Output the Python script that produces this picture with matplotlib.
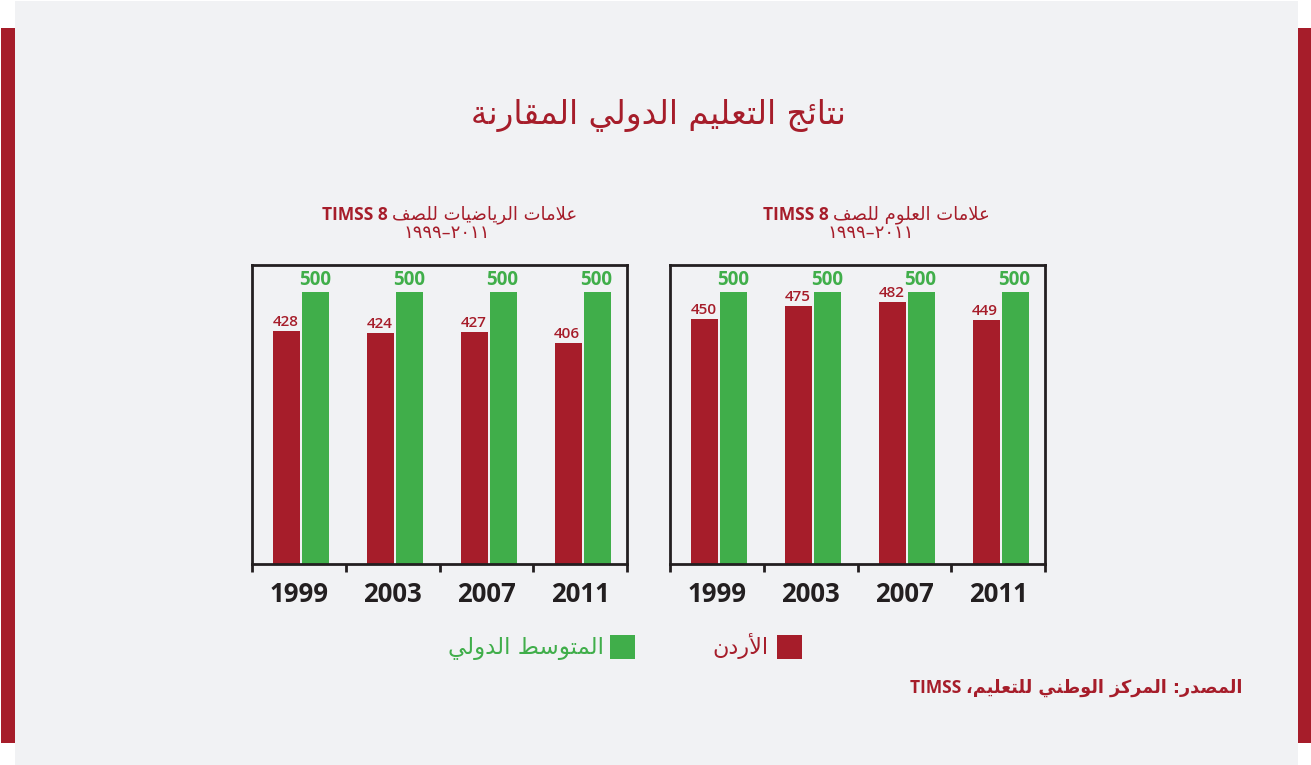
import matplotlib
matplotlib.use("Agg")
import matplotlib.pyplot as plt
from matplotlib.patches import Rectangle

# ---------------- data ----------------
years = ["1999", "2003", "2007", "2011"]
math_jordan = [428, 424, 427, 406]
math_intl = [500, 500, 500, 500]
sci_jordan = [450, 475, 482, 449]
sci_intl = [500, 500, 500, 500]

title_txt = "نتائج التعليم الدولي المقارنة"
math_title = "علامات الرياضيات للصف"
sci_title = "علامات العلوم للصف"
period_txt = "١٩٩٩–٢٠١١"
legend_jordan = "الأردن"
legend_intl = "المتوسط الدولي"
source_txt = "المصدر: المركز الوطني للتعليم،"

RED = "#a61d2a"
GREEN = "#40ae4a"
DARK = "#231f20"
BG = "#f1f2f4"

# ------------- minimal Arabic shaping (presentation forms) -------------
DUAL = {'ئ': 0xFE89, 'ب': 0xFE8F, 'ت': 0xFE95, 'ث': 0xFE99, 'ج': 0xFE9D, 'ح': 0xFEA1,
        'خ': 0xFEA5, 'س': 0xFEB1, 'ش': 0xFEB5, 'ص': 0xFEB9, 'ض': 0xFEBD, 'ط': 0xFEC1,
        'ظ': 0xFEC5, 'ع': 0xFEC9, 'غ': 0xFECD, 'ف': 0xFED1, 'ق': 0xFED5, 'ك': 0xFED9,
        'ل': 0xFEDD, 'م': 0xFEE1, 'ن': 0xFEE5, 'ه': 0xFEE9, 'ي': 0xFEF1}
RIGHT = {'آ': 0xFE81, 'أ': 0xFE83, 'ؤ': 0xFE85, 'إ': 0xFE87, 'ا': 0xFE8D, 'ة': 0xFE93,
         'د': 0xFEA9, 'ذ': 0xFEAB, 'ر': 0xFEAD, 'ز': 0xFEAF, 'و': 0xFEED, 'ى': 0xFEEF}
NONE = {'ء': 0xFE80}
LAMALEF = {'آ': 0xFEF5, 'أ': 0xFEF7, 'إ': 0xFEF9, 'ا': 0xFEFB}


def shape(s):
    toks = []
    i = 0
    while i < len(s):
        c = s[i]
        if c == 'ل' and i + 1 < len(s) and s[i + 1] in LAMALEF:
            toks.append(('LA', s[i + 1]))
            i += 2
        else:
            toks.append(('C', c))
            i += 1

    def jn(t):
        return t[0] == 'C' and t[1] in DUAL

    def jp(t):
        return t[0] == 'LA' or t[1] in DUAL or t[1] in RIGHT

    out = []
    for k, t in enumerate(toks):
        prev = toks[k - 1] if k > 0 else None
        nxt = toks[k + 1] if k + 1 < len(toks) else None
        cp = prev is not None and jn(prev) and jp(t)
        cn = nxt is not None and jn(t) and jp(nxt)
        if t[0] == 'LA':
            out.append(chr(LAMALEF[t[1]] + (1 if cp else 0)))
            continue
        c = t[1]
        if c in DUAL:
            out.append(chr(DUAL[c] + (3 if (cp and cn) else 1 if cp else 2 if cn else 0)))
        elif c in RIGHT:
            out.append(chr(RIGHT[c] + (1 if cp else 0)))
        elif c in NONE:
            out.append(chr(NONE[c]))
        else:
            out.append(c)
    return ''.join(out)


def ar(s):
    return shape(s)[::-1]


# ---------------- figure ----------------
W, H = 1311, 765
fig = plt.figure(figsize=(W / 100, H / 100), dpi=100)
fig.patch.set_facecolor("white")


def rect_px(x0, y0, x1, y1, color):
    fig.add_artist(Rectangle((x0 / W, 1 - y1 / H), (x1 - x0) / W, (y1 - y0) / H,
                             transform=fig.transFigure, facecolor=color,
                             edgecolor="none", zorder=-10))


rect_px(15, 1, 1298, 765, BG)
rect_px(1, 28, 15, 743, RED)
rect_px(1298, 28, 1311, 743, RED)

AR_FONT = ["DejaVu Sans"]
NUM_FONT = ["Open Sans", "DejaVu Sans"]

# title
fig.text(658 / W, 1 - 115 / H, ar(title_txt), ha="center", va="center",
         fontsize=23.5, color=RED, family=AR_FONT)


def panel(left_px, jordan, intl, sub_ar, sub_right_px, sub_center_px):
    ax = fig.add_axes([left_px / W, 1 - 564 / H, 375 / W, 299 / H])
    ax.set_facecolor("none")
    xs = range(len(years))
    bw = 0.29
    for i in xs:
        ax.bar(i + 0.372, jordan[i], width=bw, color=RED, zorder=2)
        ax.bar(i + 0.681, intl[i], width=bw, color=GREEN, zorder=2)
        ax.text(i + 0.362, jordan[i] + 4, str(jordan[i]), ha="center", va="bottom",
                fontsize=11, color=RED, family=NUM_FONT, fontweight="semibold")
        ax.text(i + 0.671, intl[i] + 4, str(intl[i]), ha="center", va="bottom",
                fontsize=13.5, color=GREEN, family=NUM_FONT, fontweight="bold")
    ax.set_xlim(0, 4)
    ax.set_ylim(0, 550)
    ax.set_yticks([])
    ax.set_xticks([0, 1, 2, 3, 4])
    ax.set_xticklabels([])
    ax.set_xticks([0.5, 1.5, 2.5, 3.5], minor=True)
    ax.set_xticklabels(years, minor=True, fontsize=18.5, fontweight="bold",
                       color=DARK, family=NUM_FONT)
    ax.tick_params(axis="x", which="major", length=5.5, width=2, color=DARK)
    ax.tick_params(axis="x", which="minor", length=0, pad=12)
    for sp in ax.spines.values():
        sp.set_color(DARK)
        sp.set_linewidth(2)
    # subtitle
    t_ar = fig.text(sub_right_px / W, 1 - 219 / H, ar(sub_ar), ha="right", va="baseline",
                    fontsize=13, color=RED, family=AR_FONT)
    ax.annotate("TIMSS 8 ", xy=(0, 0), xycoords=t_ar, ha="right", va="bottom",
                fontsize=12.5, color=RED, family=NUM_FONT, fontweight="bold",
                annotation_clip=False)
    fig.text(sub_center_px / W, 1 - 233 / H, period_txt, ha="center", va="center",
             fontsize=13, color=RED, family=AR_FONT)
    return ax


panel(252, math_jordan, math_intl, math_title, 577, 447)
panel(670, sci_jordan, sci_intl, sci_title, 990, 871)

# legend
rect_px(777, 635, 802, 659, RED)
fig.text(769 / W, 1 - 654 / H, ar(legend_jordan), ha="right", va="baseline",
         fontsize=16, color=RED, family=AR_FONT)
rect_px(610, 635, 635, 659, GREEN)
fig.text(604 / W, 1 - 654 / H, ar(legend_intl), ha="right", va="baseline",
         fontsize=16.5, color=GREEN, family=AR_FONT)

# source
t_src = fig.text(1242 / W, 1 - 693 / H, ar(source_txt), ha="right", va="baseline",
                 fontsize=12.7, color=RED, family=AR_FONT, fontweight="bold")
fig.axes[0].annotate("TIMSS ", xy=(0, 0), xycoords=t_src, ha="right", va="bottom",
                     fontsize=12.5, color=RED, family=NUM_FONT, fontweight="bold",
                     annotation_clip=False)

fig.savefig("out.png", dpi=100, facecolor=fig.get_facecolor())
